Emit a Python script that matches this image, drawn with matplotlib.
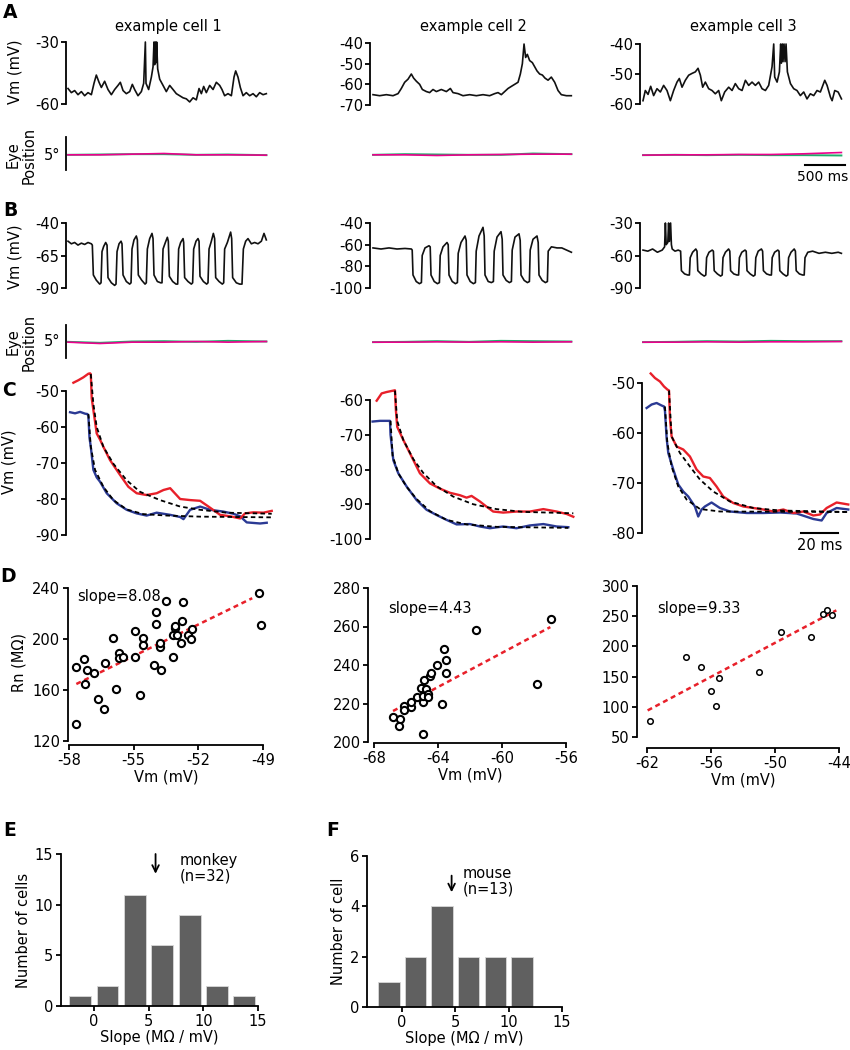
import matplotlib
matplotlib.use('Agg')
import matplotlib.pyplot as plt

plt.rcParams['font.family'] = 'DejaVu Sans'
plt.rcParams['font.size'] = 9.5
plt.rcParams['axes.unicode_minus'] = False

# ---------------- data ----------------
# A: spontaneous Vm, time (ms) / Vm (mV)
a1_t = [0, 42, 83, 125, 167, 208, 250, 292, 325, 354, 388, 417, 458, 500, 542, 583, 625, 654, 688, 729,
        771, 804, 833, 875, 917, 946, 967, 975, 1008, 1042, 1063, 1075, 1083, 1092, 1100, 1108, 1121, 1146,
        1188, 1229, 1271, 1313, 1354, 1396, 1438, 1479, 1521, 1563, 1604, 1638, 1667, 1696, 1729, 1771,
        1813, 1854, 1896, 1925, 1958, 2000, 2042, 2075, 2096, 2125, 2154, 2188, 2229, 2271, 2313, 2354,
        2396, 2438, 2479]
a1_v = [-52.5, -54.5, -53.5, -55.5, -54, -56, -54.5, -55.5, -50, -46, -49.5, -52, -49, -53, -55.5, -53, -51,
        -49.5, -53.5, -55, -54, -50.5, -53, -56, -54, -50, -30, -50, -53, -47, -42, -30, -41, -30, -40, -30,
        -43, -48, -51, -54, -51, -53, -55, -56, -57, -57.5, -59, -57, -58, -52.5, -55, -51.5, -54.5, -51,
        -53, -49.5, -51, -53, -56, -55, -56, -47, -44, -47, -52, -56, -54.5, -56, -55, -56.5, -54.5, -55.5, -55]
a2_t = [0, 83, 167, 250, 313, 354, 396, 438, 479, 508, 542, 583, 617, 667, 708, 750, 792, 854, 917, 967,
        1000, 1063, 1125, 1208, 1292, 1375, 1458, 1521, 1563, 1604, 1646, 1688, 1729, 1771, 1813, 1842,
        1867, 1888, 1908, 1929, 1958, 1992, 2021, 2050, 2083, 2117, 2150, 2188, 2229, 2271, 2313, 2354,
        2417, 2479]
a2_v = [-65, -65.5, -65, -65.5, -64.5, -62, -59, -57.5, -55, -57, -58.5, -60, -62.5, -63.5, -64, -62.5,
        -63.5, -62.5, -63.5, -62, -64, -64.5, -65.5, -65, -65.5, -65, -65.5, -64.5, -64, -65, -63.5, -62,
        -61, -60, -59, -55, -50, -40.5, -47, -45.5, -48.5, -49.5, -51.5, -53.5, -55, -55.5, -57, -58,
        -56.5, -59, -63, -65, -65.5, -65.5]
a3_t = [0, 29, 63, 96, 133, 175, 217, 258, 300, 342, 383, 425, 454, 488, 529, 571, 613, 654, 688, 717,
        746, 779, 821, 863, 904, 946, 979, 1021, 1071, 1113, 1154, 1196, 1238, 1280, 1321, 1363, 1405,
        1446, 1488, 1530, 1571, 1613, 1634, 1646, 1676, 1705, 1721, 1730, 1742, 1750, 1763, 1776, 1788,
        1805, 1843, 1884, 1925, 1967, 2009, 2050, 2092, 2134, 2175, 2217, 2272, 2301, 2343, 2364, 2397,
        2439, 2481]
a3_v = [-58.9, -55.5, -56.8, -54.1, -57.2, -54.9, -56, -53.8, -55.5, -58.9, -55.5, -52.7, -51.5, -54.4,
        -52.1, -50.4, -49.8, -49.3, -48.1, -50.4, -54.4, -52.7, -54.9, -55.5, -56.6, -55.5, -58.9, -56,
        -54.4, -55.5, -53.2, -54.9, -55.5, -52.1, -53.8, -52.7, -53.8, -52.7, -54.9, -55.5, -53.8, -47.6,
        -40, -51, -52.7, -49.3, -40, -46.4, -40, -45.9, -40, -45.9, -40, -49.3, -53.2, -54.9, -55.5, -57.2,
        -56, -58.3, -56.6, -57.2, -55.5, -56, -52.1, -53.8, -57.7, -58.9, -55.5, -56, -58.3]

# B: Vm during current pulses
b1_t = [0, 42, 83, 125, 167, 208, 250, 292,
        304, 317, 354, 396, 413, 425, 446, 471,
        488, 500, 542, 583, 600, 613, 638, 663,
        675, 688, 729, 771, 788, 800, 825, 854,
        867, 879, 921, 963, 979, 992, 1021, 1050,
        1063, 1075, 1117, 1158, 1175, 1188, 1217, 1242,
        1254, 1267, 1308, 1350, 1371, 1383, 1408, 1438,
        1446, 1458, 1500, 1542, 1558, 1571, 1600, 1625,
        1638, 1650, 1692, 1733, 1750, 1763, 1792, 1817,
        1833, 1846, 1888, 1929, 1946, 1958, 1992, 2033,
        2046, 2058, 2104, 2146, 2175, 2192, 2221, 2250,
        2292, 2333, 2375, 2417, 2450, 2479]
b1_v = [-54, -56, -55, -57, -55.5, -56.5, -55, -56,
        -57, -80, -84, -87, -86, -62, -58, -55,
        -57, -82, -86, -88, -87, -62, -56, -54,
        -56, -80, -85, -87, -86, -60, -53, -50,
        -53, -80, -84, -87, -86, -60, -52, -48,
        -52, -80, -85, -86, -86, -60, -55, -51,
        -54, -81, -85, -87, -87, -60, -55, -52,
        -55, -82, -85, -87, -86, -60, -54, -52,
        -54, -81, -85, -87, -86, -60, -54, -48,
        -52, -82, -85, -87, -86, -60, -55, -47,
        -52, -82, -86, -87, -87, -60, -54, -52,
        -56, -55, -56, -54, -48, -53]
b2_t = [0, 100, 200, 300, 400, 480,
        490, 500, 540, 580, 605, 615, 650, 700,
        715, 725, 765, 805, 830, 840, 875, 925,
        940, 950, 990, 1030, 1055, 1065, 1100, 1150,
        1165, 1175, 1215, 1255, 1280, 1290, 1325, 1375,
        1390, 1400, 1440, 1480, 1505, 1515, 1550, 1600,
        1615, 1625, 1665, 1705, 1730, 1740, 1775, 1825,
        1840, 1850, 1890, 1930, 1955, 1965, 2000, 2050,
        2065, 2075, 2115, 2155, 2180, 2190, 2230, 2300,
        2360, 2420, 2480]
b2_v = [-63, -64, -63, -64, -63.5, -64,
        -65, -88, -94, -96, -95, -70, -63, -61,
        -62, -88, -94, -96, -95, -70, -62, -58,
        -60, -88, -94, -96, -95, -68, -58, -52,
        -56, -88, -94, -96, -95, -66, -52, -44,
        -52, -88, -94, -95, -94, -66, -53, -48,
        -55, -88, -93, -95, -94, -65, -53, -50,
        -56, -88, -93, -95, -94, -65, -55, -52,
        -58, -88, -93, -95, -94, -66, -62, -63,
        -63, -65, -67]
b3_t = [0, 60, 120, 180, 240, 270, 280, 290, 310, 320, 330, 345, 355, 365, 400, 440,
        470, 480, 520, 560, 580, 590, 620, 660,
        675, 685, 725, 765, 785, 795, 825, 865,
        880, 890, 930, 970, 990, 1000, 1030, 1070,
        1085, 1095, 1135, 1175, 1195, 1205, 1235, 1275,
        1290, 1300, 1340, 1380, 1400, 1410, 1440, 1480,
        1495, 1505, 1545, 1585, 1605, 1615, 1645, 1685,
        1700, 1710, 1750, 1790, 1810, 1820, 1850, 1890,
        1905, 1915, 1955, 1995, 2015, 2025, 2060, 2120,
        2200, 2280, 2360, 2440, 2480]
b3_v = [-55, -56, -54, -57, -55, -52, -30, -50, -48, -30, -47, -30, -50, -54, -56, -55,
        -56, -74, -77, -78, -78, -62, -57, -54,
        -56, -74, -77, -79, -78, -62, -57, -55,
        -56, -74, -77, -79, -78, -62, -57, -54,
        -56, -74, -77, -78, -78, -62, -57, -55,
        -56, -74, -77, -79, -78, -62, -56, -54,
        -56, -74, -77, -78, -78, -62, -57, -55,
        -56, -74, -77, -79, -78, -62, -57, -54,
        -56, -74, -77, -78, -78, -62, -57, -56,
        -58, -57, -58, -57, -58]

# eye position (deg): magenta and green traces per row/column
eye_t = [0, 400, 800, 1200, 1600, 2000, 2480]
eye_a_mag = [[-0.2, -0.2, -0.1, 0.0, -0.2, -0.2, -0.25],
             [-0.2, -0.2, -0.3, -0.2, -0.15, -0.1, -0.1],
             [-0.25, -0.2, -0.2, -0.15, -0.15, -0.05, 0.15]]
eye_a_grn = [[-0.2, -0.15, -0.1, -0.1, -0.2, -0.15, -0.25],
             [-0.2, -0.1, -0.15, -0.2, -0.2, 0.0, -0.1],
             [-0.25, -0.2, -0.25, -0.2, -0.25, -0.25, -0.3]]
eye_b_mag = [[-0.1, -0.3, -0.1, -0.1, 0.0, -0.1, 0.0],
             [-0.1, -0.1, -0.05, -0.1, -0.05, -0.1, -0.05],
             [-0.1, -0.1, -0.05, -0.1, -0.05, -0.05, 0.0]]
eye_b_grn = [[-0.05, -0.2, 0.0, 0.05, -0.05, 0.1, 0.0],
             [-0.1, -0.05, 0.05, -0.05, 0.1, 0.05, 0.0],
             [-0.1, -0.05, 0.05, 0.0, 0.1, 0.05, 0.05]]

# C: Vm responses (ms, mV), red = depolarized, blue = hyperpolarized, dashed fits
c1_red_t = [1.8, 4.5, 7.2, 9.9, 10.8, 11.2, 11.7, 12.6, 14.4, 16.2, 18, 21.6, 27, 31.5, 36, 41.4, 46.8, 50.5,
            54.1, 56.8, 59.5, 64.9, 70.3, 74.8, 81.1, 86.5, 91.9, 94.6, 99.1, 104.5, 109]
c1_red_v = [-47.7, -47, -46.2, -45.2, -45.1, -45.3, -52, -55.3, -61.8, -63.5, -65.5, -69.2, -73.3, -76.6,
            -78.4, -78.9, -78.4, -77.5, -77, -78.5, -80, -80.3, -80.5, -82.1, -84.4, -84.8, -85.4, -84, -83.7,
            -83.8, -83.3]
c1_blue_t = [0, 2.7, 5.4, 8.1, 9.4, 9.9, 10.5, 11.2, 12.6, 14.4, 16.2, 19.8, 25.2, 30.6, 36, 41.4, 46.8,
             54.1, 59.5, 61.3, 64.9, 70.3, 75.7, 82.9, 88.3, 91.9, 95.5, 102.7, 106.3]
c1_blue_v = [-55.9, -56.2, -55.8, -56.3, -56.4, -57, -63, -65.5, -71.9, -74, -75.2, -78.4, -81.2, -83, -84,
             -84.6, -83.8, -84.4, -85, -85.6, -83, -82.1, -83, -83.5, -84.1, -84.8, -86.5, -86.8, -86.6]
c1_rfit_t = [11.2, 12.6, 14.4, 18, 23.4, 30.6, 37.8, 48.6, 59.5, 70.3, 84.7, 109]
c1_rfit_v = [-45.3, -53.6, -60, -65.5, -70.2, -74.8, -78, -80.3, -82.1, -83, -83.8, -84.1]
c1_bfit_t = [9.9, 11.2, 13.5, 18, 23.4, 30.6, 39.6, 52.3, 70.3, 109]
c1_bfit_v = [-56.4, -65.5, -71.9, -76.6, -80.3, -82.9, -84.2, -84.6, -84.9, -85.1]

c2_red_t = [2.2, 4.9, 7.6, 11.2, 12.1, 12.6, 13.3, 16.6, 21.1, 25.6, 31, 36.4, 41.8, 47.2, 50.8, 53.5, 58,
            61.6, 65.2, 70.6, 77.8, 85, 92.3, 99.5, 104.9, 108.5]
c2_red_v = [-60.2, -58.1, -57.7, -57.3, -57.2, -63, -67.7, -71.5, -76.3, -81.1, -84, -85.5, -86.7, -87.4,
            -88.1, -87.6, -89.2, -90.7, -92.1, -92.4, -92.1, -92.1, -91.4, -92.1, -92.8, -93.6]
c2_blue_t = [0, 4, 9.4, 9.7, 11.2, 13.9, 18.4, 23.8, 29.2, 34.6, 40, 45.4, 52.6, 58, 63.4, 70.6, 77.8, 85,
             92.3, 99.5, 105.8]
c2_blue_v = [-66.2, -66, -66, -70, -77.3, -81.1, -84.9, -88.8, -91.6, -93.1, -94.5, -95.8, -95.7, -96.4,
             -96.9, -96.4, -96.9, -96.1, -95.7, -96.4, -96.6]
c2_rfit_t = [12.1, 13.3, 16.6, 22, 27.4, 34.6, 43.6, 54.4, 67, 81.4, 108.5]
c2_rfit_v = [-57.3, -66, -71.5, -77, -81, -84.8, -87.8, -90, -91.4, -92.2, -92.6]
c2_bfit_t = [9.7, 10.8, 13.9, 18.4, 23.8, 31, 40, 50.8, 67, 105.8]
c2_bfit_v = [-66, -76, -81.1, -85, -88.5, -92, -94.5, -95.8, -96.5, -96.8]

c3_red_t = [2.2, 4.5, 7.2, 9.4, 11.2, 12.1, 12.6, 13.5, 16.2, 19.8, 23.4, 27, 30.6, 34.2, 37.8, 41.4, 46.8,
            52.3, 57.7, 63.1, 68.5, 73.9, 79.3, 84.7, 90.1, 93.7, 97.3, 102.7, 109]
c3_red_v = [-48.1, -49, -49.7, -50.7, -51.3, -51.5, -57, -60.7, -62.7, -63.3, -64.7, -67.3, -68.7, -69,
            -70.7, -72.7, -74, -74.7, -75, -75.3, -75.7, -75.3, -76, -75.7, -76.5, -76.3, -75, -73.9, -74.3]
c3_blue_t = [0, 2.7, 5.4, 8.1, 9.4, 9.9, 10.8, 11.7, 14.4, 17.1, 19.8, 22.5, 26.1, 27.9, 29.7, 31.5, 35.1,
             39.6, 45, 54.1, 63.1, 72.1, 81.1, 90.1, 94.6, 97.3, 102.7, 109]
c3_blue_v = [-55, -54.3, -54, -54.5, -54.7, -55.5, -61, -64, -67.3, -70.3, -71.7, -72.7, -74.7, -76.7,
             -75.3, -74.7, -73.9, -75, -75.7, -76, -76, -75.9, -76.1, -77.2, -77.5, -76, -75, -75.3]
c3_rfit_t = [12.1, 13.5, 18, 23.4, 28.8, 36, 45, 57.7, 72.1, 109]
c3_rfit_v = [-51.5, -60.7, -64, -66.7, -69.3, -71.7, -73.7, -75, -75.5, -75.8]
c3_bfit_t = [9.9, 11.2, 13.5, 17.1, 21.6, 28.8, 39.6, 109]
c3_bfit_v = [-54.7, -62, -66.7, -70.7, -73.3, -75.2, -75.7, -75.8]

# D: Rn vs Vm
d1_vm = [-57.66, -57.68, -57.3, -57.27, -57.16, -56.84, -56.64, -56.36, -56.31, -55.97, -55.82, -55.7,
         -55.7, -55.5, -54.96, -54.94, -54.71, -54.58, -54.58, -54.06, -53.95, -53.95, -53.76, -53.8,
         -53.73, -53.52, -53.18, -53.16, -53.1, -53.07, -53.0, -52.82, -52.78, -52.7, -52.47, -52.34,
         -52.3, -49.17, -49.08]
d1_rn = [178, 133, 184, 165, 176, 173, 153, 145, 181, 201, 161, 189, 185, 186, 206, 186, 156, 201, 195,
         180, 221, 212, 194, 197, 176, 230, 186, 203, 209, 210, 203, 197, 214, 229, 203, 200, 208, 236, 211]
d1_fit_vm = [-57.66, -49.5]
d1_fit_rn = [164.7, 232]
d2_vm = [-66.81, -66.37, -66.43, -66.1, -66.1, -65.68, -65.68, -65.29, -65.06, -64.95, -64.95, -64.87,
         -64.72, -64.64, -64.6, -64.51, -64.45, -64.95, -64.07, -63.72, -63.6, -63.51, -63.51, -61.61,
         -57.81, -56.91]
d2_rn = [213.2, 212.1, 208.3, 218.9, 216.8, 218, 221, 223.4, 228.2, 220.8, 223.7, 232, 227.4, 224.8, 223.4,
         234.3, 235.7, 204.3, 240, 219.9, 248.3, 242.4, 235.8, 258.2, 230, 263.9]
d2_fit_vm = [-66.81, -56.98]
d2_fit_rn = [216.1, 259.7]
d3_vm = [-61.69, -58.39, -56.98, -55.99, -55.52, -55.21, -51.53, -49.41, -46.58, -45.49, -45.08, -44.68]
d3_rn = [76.5, 181.9, 166, 126.7, 101.3, 147.7, 158.2, 223.8, 215, 253, 260.3, 252]
d3_fit_vm = [-61.94, -44.25]
d3_fit_rn = [94, 259.7]
slopes = ['slope=8.08', 'slope=4.43', 'slope=9.33']

# E / F: slope histograms
e_centers = [-1.25, 1.25, 3.75, 6.25, 8.75, 11.25, 13.75]
e_counts = [1, 2, 11, 6, 9, 2, 1]
e_mean = 5.64
f_centers = [-1.25, 1.25, 3.75, 6.25, 8.75, 11.25]
f_counts = [1, 2, 4, 2, 2, 2]
f_mean = 4.64

RED = '#e8202a'
BLUE = '#2b3a94'
MAG = '#ec008c'
GRN = '#1fae6a'

# ---------------- layout helpers ----------------
W, H = 850, 1050
fig = plt.figure(figsize=(W / 100, H / 100), dpi=100)


def add_ax(l, t, r, b):
    ax = fig.add_axes([l / W, 1 - b / H, (r - l) / W, (b - t) / H])
    ax.patch.set_visible(False)
    return ax


def ftext(x, y, s, **kw):
    fig.text(x / W, 1 - y / H, s, **kw)


def trace_style(ax, ticks=None, spine=True):
    for s in ['top', 'right', 'bottom']:
        ax.spines[s].set_visible(False)
    ax.spines['left'].set_visible(spine)
    ax.spines['left'].set_linewidth(1.3)
    ax.set_xticks([])
    if ticks is None:
        ax.set_yticks([])
    else:
        ax.set_yticks(ticks)
        ax.set_yticklabels([str(t) for t in ticks])
    ax.tick_params(axis='y', direction='out', length=3.5, width=1.3, pad=1.5, labelsize=10.5)


def panel(x, y, s):
    ftext(x, y, s, fontsize=13.5, fontweight='bold', ha='center', va='center')


# column geometry (pixels): spine x, trace start x
spine_x = [66, 370, 640]
start_x = [68, 373, 643]
MS_PX = 12.5   # ms per pixel in A/B

a_t = [a1_t, a2_t, a3_t]
a_v = [a1_v, a2_v, a3_v]
a_lim = [(-60, -30), (-70, -40), (-60, -40)]
a_ticks = [[-30, -60], [-40, -50, -60, -70], [-40, -50, -60]]
a_top = [42, 43, 44]
a_bot = [104, 105, 104]

b_t = [b1_t, b2_t, b3_t]
b_v = [b1_v, b2_v, b3_v]
b_lim = [(-90, -40), (-100, -40), (-90, -30)]
b_ticks = [[-40, -65, -90], [-40, -60, -80, -100], [-30, -60, -90]]

titles = ['example cell 1', 'example cell 2', 'example cell 3']
eye_axes_a = []

for i in range(3):
    l, s0 = spine_x[i], start_x[i]
    xl = (-(s0 - l) * MS_PX, 2500)
    r = s0 + 200
    # A Vm
    ax = add_ax(l, a_top[i], r, a_bot[i])
    ax.plot(a_t[i], a_v[i], color='#111111', lw=1.2, clip_on=False)
    ax.set_xlim(*xl)
    ax.set_ylim(*a_lim[i])
    trace_style(ax, a_ticks[i])
    ftext((s0 + r) / 2, 26, titles[i], ha='center', va='center', fontsize=10.5)
    # A eye
    ax = add_ax(l, 137, r, 170)
    ax.plot(eye_t, eye_a_grn[i], color=GRN, lw=1.4)
    ax.plot(eye_t, eye_a_mag[i], color=MAG, lw=1.2)
    ax.set_xlim(*xl)
    ax.set_ylim(-2.5, 2.5)
    trace_style(ax, None, spine=(i == 0))
    eye_axes_a.append(ax)
    # B Vm
    ax = add_ax(l, 223, r, 288)
    ax.plot(b_t[i], b_v[i], color='#111111', lw=1.2, clip_on=False)
    ax.set_xlim(*xl)
    ax.set_ylim(*b_lim[i])
    trace_style(ax, b_ticks[i])
    # B eye
    ax = add_ax(l, 325, r, 358)
    ax.plot(eye_t, eye_b_grn[i], color=GRN, lw=1.4)
    ax.plot(eye_t, eye_b_mag[i], color=MAG, lw=1.2)
    ax.set_xlim(*xl)
    ax.set_ylim(-2.5, 2.5)
    trace_style(ax, None, spine=(i == 0))

# 500 ms scale bar
ax = eye_axes_a[2]
ax.plot([2025, 2525], [-1.75, -1.75], color='black', lw=1.5, clip_on=False)
ax.text(2240, -3.6, '500 ms', ha='center', va='center', fontsize=10, clip_on=False)

# labels for A / B
panel(10, 12, 'A')
panel(10, 211, 'B')
ftext(15, 72, 'Vm (mV)', rotation=90, ha='center', va='center', fontsize=10.5)
ftext(15, 257, 'Vm (mV)', rotation=90, ha='center', va='center', fontsize=10.5)
for yy in [155, 342]:
    ftext(21, yy, 'Eye\nPosition', rotation=90, ha='center', va='center', fontsize=10.5,
          multialignment='center', linespacing=1.1)
    ftext(52, yy, '5°', ha='center', va='center', fontsize=10.5)

# ---------------- C ----------------
C_PX = 1.85   # pixels per ms
c_geo = [(66, 391, 275, 535, -2.2), (370, 400, 575, 539, -1.4), (642, 383, 848, 533, -2.5)]
c_lim = [(-90, -50), (-100, -60), (-80, -50)]
c_ticks = [[-50, -60, -70, -80, -90], [-60, -70, -80, -90, -100], [-50, -60, -70, -80]]
c_data = [(c1_red_t, c1_red_v, c1_blue_t, c1_blue_v, c1_rfit_t, c1_rfit_v, c1_bfit_t, c1_bfit_v),
          (c2_red_t, c2_red_v, c2_blue_t, c2_blue_v, c2_rfit_t, c2_rfit_v, c2_bfit_t, c2_bfit_v),
          (c3_red_t, c3_red_v, c3_blue_t, c3_blue_v, c3_rfit_t, c3_rfit_v, c3_bfit_t, c3_bfit_v)]
for i in range(3):
    l, t, r, b, x0 = c_geo[i]
    ax = add_ax(l, t, r, b)
    rt, rv, bt, bv, rft, rfv, bft, bfv = c_data[i]
    ax.plot(bt, bv, color=BLUE, lw=1.7, clip_on=False)
    ax.plot(rt, rv, color=RED, lw=1.7, clip_on=False)
    ax.plot(rft, rfv, color='black', lw=1.3, ls=(0, (2.5, 1.8)), clip_on=False)
    ax.plot(bft, bfv, color='black', lw=1.3, ls=(0, (2.5, 1.8)), clip_on=False)
    ax.set_xlim(x0, x0 + (r - l) / C_PX)
    ax.set_ylim(*c_lim[i])
    trace_style(ax, c_ticks[i])
    if i == 2:
        ax.plot([83.4, 103.4], [-80, -80], color='black', lw=1.5, clip_on=False)
        ax.text(93.4, -82.5, '20 ms', ha='center', va='center', fontsize=10.5, clip_on=False)
panel(9, 390, 'C')
ftext(9, 462, 'Vm (mV)', rotation=90, ha='center', va='center', fontsize=10.5)

# ---------------- D ----------------
d_geo = [(69, 588, 263, 741, 1, 3), (374, 588, 566, 742, 4, 1), (647, 586, 839, 737, 7, 8)]
d_xlim = [(-58, -49), (-68, -56), (-62, -44)]
d_ylim = [(120, 240), (200, 280), (50, 300)]
d_xt = [[-58, -55, -52, -49], [-68, -64, -60, -56], [-62, -56, -50, -44]]
d_yt = [[120, 160, 200, 240], [200, 220, 240, 260, 280], [50, 100, 150, 200, 250, 300]]
d_pts = [(d1_vm, d1_rn, d1_fit_vm, d1_fit_rn), (d2_vm, d2_rn, d2_fit_vm, d2_fit_rn),
         (d3_vm, d3_rn, d3_fit_vm, d3_fit_rn)]
d_ms = [5.2, 5.2, 4.0]
d_mew = [1.5, 1.5, 1.1]
slope_pos = [(77, 597), (388, 608), (657, 608)]
for i in range(3):
    l, t, r, b, offl, offb = d_geo[i]
    ax = add_ax(l, t, r, b)
    vm, rn, fvm, frn = d_pts[i]
    ax.plot(fvm, frn, color=RED, lw=1.8, ls=(0, (2, 1.5)), zorder=1)
    ax.plot(vm, rn, 'o', mfc='white', mec='black', ms=d_ms[i], mew=d_mew[i], ls='none', zorder=2,
            clip_on=False)
    ax.set_xlim(*d_xlim[i])
    ax.set_ylim(*d_ylim[i])
    ax.set_xticks(d_xt[i])
    ax.set_yticks(d_yt[i])
    ax.set_xticklabels([str(v) for v in d_xt[i]])
    ax.set_yticklabels([str(v) for v in d_yt[i]])
    for s in ['top', 'right']:
        ax.spines[s].set_visible(False)
    ax.spines['left'].set_position(('outward', offl))
    ax.spines['bottom'].set_position(('outward', offb))
    for s in ['left', 'bottom']:
        ax.spines[s].set_linewidth(1.3)
    ax.tick_params(direction='out', length=3.5, width=1.3, labelsize=10.5, pad=2)
    ax.set_xlabel('Vm (mV)', fontsize=10.5, labelpad=1)
    ftext(slope_pos[i][0], slope_pos[i][1], slopes[i], ha='left', va='center', fontsize=10.5)
panel(8, 577, 'D')
ftext(19, 663, 'Rn (MΩ)', rotation=90, ha='center', va='center', fontsize=10.5)

# ---------------- E / F ----------------
hist_geo = [(61, 854, 258, 1006), (367, 856, 562, 1007)]
hist_data = [(e_centers, e_counts, e_mean, (-3, 15), (0, 15), [0, 5, 10, 15], 'Number of cells',
              'monkey\n(n=32)', 2.2),
             (f_centers, f_counts, f_mean, (-3.3, 15), (0, 6), [0, 2, 4, 6], 'Number of cell',
              'mouse\n(n=13)', 1.0)]
for i in range(2):
    l, t, r, b = hist_geo[i]
    ax = add_ax(l, t, r, b)
    cen, cnt, mean, xl, yl, yt, ylab, note, dx = hist_data[i]
    ax.bar(cen, cnt, width=2.0, color='#606060', edgecolor='#d8d8d8', linewidth=0.6)
    ax.set_xlim(*xl)
    ax.set_ylim(*yl)
    ax.set_xticks([0, 5, 10, 15])
    ax.set_yticks(yt)
    for s in ['top', 'right']:
        ax.spines[s].set_visible(False)
    for s in ['left', 'bottom']:
        ax.spines[s].set_linewidth(1.3)
    ax.tick_params(direction='out', length=3.5, width=1.3, labelsize=10.5, pad=2)
    ax.set_ylabel(ylab, fontsize=10.5, labelpad=3)
    ax.set_xlabel('Slope (MΩ / mV)', fontsize=10.5, labelpad=1)
    ytop = yl[1]
    if i == 0:
        y0, y1 = ytop * 1.0, ytop * 0.87
    else:
        y0, y1 = ytop * 0.87, ytop * 0.76
    ax.annotate('', xy=(mean, y1), xytext=(mean, y0),
                arrowprops=dict(arrowstyle='->,head_length=0.5,head_width=0.25', lw=1.3,
                                color='black', shrinkA=0, shrinkB=0),
                annotation_clip=False)
    ax.text(mean + dx, ytop * 1.005 if i == 0 else ytop * 0.935, note, ha='left', va='top',
            fontsize=10.5, linespacing=1.05)
panel(10, 831, 'E')
panel(333, 831, 'F')

fig.savefig('out.png', dpi=100)
